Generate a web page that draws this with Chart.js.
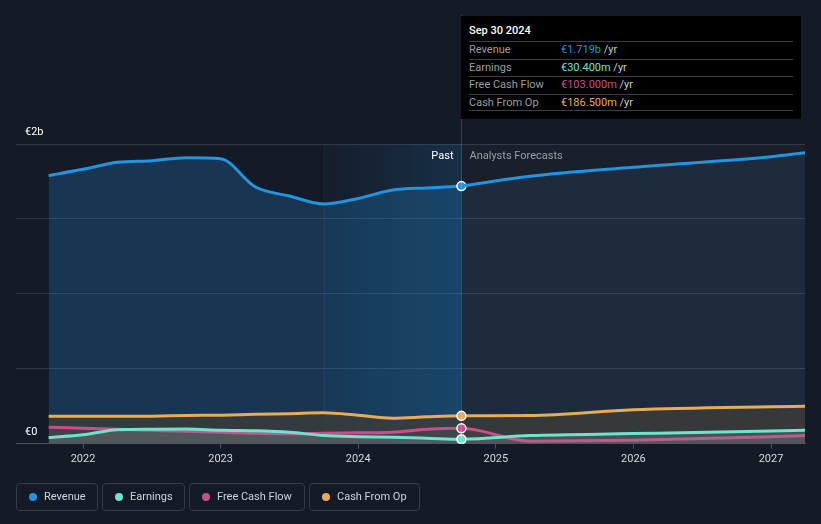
<!DOCTYPE html>
<html>
<head>
<meta charset="utf-8">
<script src="https://cdn.jsdelivr.net/npm/chart.js@4"></script>
<style>
  html, body { margin: 0; padding: 0; background: #151b26; width: 821px; height: 524px; overflow: hidden; font-family: Roboto, "Noto Sans", sans-serif; }
  #wrap { position: absolute; left: 0; top: 0; width: 821px; height: 524px; }
  canvas { position: absolute; left: 0; top: 0; }
  .tip { position: absolute; left: 461px; top: 16px; width: 340px; height: 103px; background: #000; }
  .tip .title { position: absolute; left: 8px; top: 8px; color: #fff; font-size: 11px; font-weight: 500; }
  .tip .row { position: absolute; left: 8px; width: 324px; height: 17px; border-top: 1px solid #3a3f47; font-size: 11px; line-height: 16px; }
  .tip .lab { position: absolute; left: 0; color: #9a9ea6; }
  .tip .val { position: absolute; left: 92px; color: #c8ccd2; }
  .tip .last { position: absolute; left: 8px; top: 94px; width: 324px; border-top: 1px solid #3a3f47; }
  .leg { position: absolute; top: 483px; border: 1px solid #353c49; border-radius: 4px; box-sizing: border-box; height: 28px; }
  .leg .dot { position: absolute; left: 12px; top: 9px; width: 8px; height: 8px; border-radius: 50%; }
  .leg .txt { position: absolute; left: 27px; top: 6px; font-size: 11px; color: #d0d4da; white-space: nowrap; }
</style>
</head>
<body>
<div id="wrap">
  <canvas id="c" width="821" height="524"></canvas>
  <div class="tip" id="tip"></div>
  <div id="legend"></div>
</div>
<script>
// ---- data ----
const pastDates     = [2021.75, 2022.0, 2022.25, 2022.5, 2022.75, 2023.0, 2023.25, 2023.5, 2023.75, 2024.0, 2024.25, 2024.5, 2024.75];
const forecastDates = [2024.75, 2025.25, 2026.0, 2027.0, 2027.25];

const revenuePast     = [1.79, 1.831, 1.878, 1.889, 1.909, 1.902, 1.715, 1.653, 1.60, 1.637, 1.693, 1.707, 1.719];
const revenueForecast = [1.719, 1.785, 1.845, 1.915, 1.942];

const earningsPast     = [0.042, 0.06, 0.093, 0.097, 0.098, 0.09, 0.087, 0.077, 0.055, 0.047, 0.043, 0.037, 0.0304];
const earningsForecast = [0.0304, 0.055, 0.068, 0.086, 0.091];

const fcfPast     = [0.111, 0.103, 0.097, 0.09, 0.083, 0.077, 0.07, 0.067, 0.071, 0.073, 0.077, 0.097, 0.103];
const fcfForecast = [0.103, 0.017, 0.023, 0.047, 0.055];

const cfoPast     = [0.183, 0.183, 0.183, 0.184, 0.189, 0.191, 0.197, 0.201, 0.207, 0.19, 0.171, 0.18, 0.1865];
const cfoForecast = [0.1865, 0.189, 0.227, 0.247, 0.25];

const yearTicks = [2022, 2023, 2024, 2025, 2026, 2027];
const yLabels = [{ v: 2, t: '€2b' }, { v: 0, t: '€0' }];
const xMin = 2021.513, xMax = 2027.247;
const highlightStart = 2023.75, nowDate = 2024.75;

const seriesNames  = ['Revenue', 'Earnings', 'Free Cash Flow', 'Cash From Op'];
const seriesColors = ['#2394df', '#6fe3cb', '#c94f8a', '#e9ab55'];
const tipTitle = 'Sep 30 2024';
const tipValues = ['€1.719b', '€30.400m', '€103.000m', '€186.500m'];

// ---- helpers ----
function pts(dates, vals) { return dates.map((d, i) => ({ x: d, y: vals[i] })); }
function joinSeries(pv, fv) { return pts(pastDates, pv).concat(pts(forecastDates.slice(1), fv.slice(1))); }
const markerR = ctx => (ctx.raw && ctx.raw.x === nowDate) ? 4.5 : 0;

const lineBase = {
  borderWidth: 3,
  cubicInterpolationMode: 'monotone',
  pointRadius: markerR,
  pointHoverRadius: markerR,
  pointBorderColor: '#ffffff',
  pointBorderWidth: 1.5,
  fill: 'origin'
};

const datasets = [
  Object.assign({}, lineBase, { label: 'Revenue', data: pts(pastDates, revenuePast), borderColor: seriesColors[0], pointBackgroundColor: seriesColors[0], backgroundColor: 'rgba(35,148,230,0.23)', order: 10 }),
  Object.assign({}, lineBase, { label: 'Revenue forecast', data: pts(forecastDates, revenueForecast), borderColor: seriesColors[0], pointRadius: 0, backgroundColor: 'rgba(50,120,190,0.12)', order: 9 }),
  Object.assign({}, lineBase, { label: 'Cash From Op', data: joinSeries(cfoPast, cfoForecast), borderColor: seriesColors[3], pointBackgroundColor: seriesColors[3], backgroundColor: 'rgba(62,62,58,0.78)', order: 5 }),
  Object.assign({}, lineBase, { label: 'Free Cash Flow', data: joinSeries(fcfPast, fcfForecast), borderColor: seriesColors[2], pointBackgroundColor: seriesColors[2], backgroundColor: 'rgba(110,100,110,0.18)', order: 3 }),
  Object.assign({}, lineBase, { label: 'Earnings', data: joinSeries(earningsPast, earningsForecast), borderColor: seriesColors[1], pointBackgroundColor: seriesColors[1], backgroundColor: 'rgba(130,135,145,0.3)', order: 2 })
];

const bgPlugin = {
  id: 'bands',
  beforeDatasetsDraw(chart) {
    const { ctx, chartArea: a, scales: { x } } = chart;
    const hx0 = x.getPixelForValue(highlightStart), hx1 = x.getPixelForValue(nowDate);
    ctx.save();
    ctx.fillStyle = 'rgba(255,255,255,0.022)';
    ctx.fillRect(hx1, a.top, a.right - hx1, a.bottom - a.top);
    const g = ctx.createLinearGradient(hx0, 0, hx1, 0);
    g.addColorStop(0, 'rgba(35,148,230,0.03)');
    g.addColorStop(1, 'rgba(35,148,230,0.17)');
    ctx.fillStyle = g;
    ctx.fillRect(hx0, a.top, hx1 - hx0, a.bottom - a.top);
    ctx.fillStyle = 'rgba(255,255,255,0.05)';
    ctx.fillRect(hx0, a.top, 1, a.bottom - a.top);
    ctx.restore();
  },
  afterDatasetsDraw(chart) {
    const { ctx, chartArea: a, scales: { x, y } } = chart;
    const nx = Math.round(x.getPixelForValue(nowDate)) + 0.5;
    ctx.save();
    ctx.strokeStyle = 'rgba(255,255,255,0.16)';
    ctx.lineWidth = 1;
    ctx.beginPath(); ctx.moveTo(nx, 15); ctx.lineTo(nx, a.bottom); ctx.stroke();
    ctx.font = '11px Roboto, "Noto Sans", sans-serif';
    ctx.textBaseline = 'middle';
    ctx.fillStyle = '#ffffff'; ctx.textAlign = 'right';
    ctx.fillText('Past', nx - 8, a.top + 12);
    ctx.fillStyle = '#9a9ea6'; ctx.textAlign = 'left';
    ctx.fillText('Analysts Forecasts', nx + 8, a.top + 12);
    ctx.fillStyle = '#ffffff';
    yLabels.forEach(l => ctx.fillText(l.t, a.left + 9, y.getPixelForValue(l.v) - 12));
    ctx.restore();
  }
};

new Chart(document.getElementById('c'), {
  type: 'line',
  data: { datasets },
  options: {
    responsive: false,
    animation: false,
    devicePixelRatio: 1,
    layout: { padding: { left: 16, right: 16, top: 144, bottom: 54 } },
    plugins: { legend: { display: false }, tooltip: { enabled: false } },
    events: [],
    scales: {
      x: {
        type: 'linear', min: xMin, max: xMax,
        afterBuildTicks: s => { s.ticks = yearTicks.map(v => ({ value: v })); },
        ticks: { color: '#d6d9de', font: { family: 'Roboto', size: 11 }, padding: 4, maxRotation: 0, callback: v => String(v) },
        grid: { drawOnChartArea: false, drawTicks: true, tickLength: 5, color: '#4a5260' },
        border: { display: true, color: '#4a5260', width: 1 }
      },
      y: {
        min: 0, max: 2,
        ticks: { stepSize: 0.5, display: false },
        grid: { drawTicks: false, color: ctx => ctx.tick && ctx.tick.value === 0 ? 'rgba(0,0,0,0)' : 'rgba(255,255,255,0.12)' },
        border: { display: false }
      }
    }
  },
  plugins: [bgPlugin]
});

// tooltip box
const tip = document.getElementById('tip');
let html = '<div class="title">' + tipTitle + '</div>';
seriesNames.forEach((n, i) => {
  const top = 25 + i * 17.5;
  html += '<div class="row" style="top:' + top + 'px"><span class="lab">' + n + '</span><span class="val"><span style="color:' + seriesColors[i] + '">' + tipValues[i] + '</span> /yr</span></div>';
});
html += '<div class="last"></div>';
tip.innerHTML = html;

// legend
const legLeft = [16, 102, 189, 309], legWidth = [82, 83, 116, 111];
const leg = document.getElementById('legend');
seriesNames.forEach((n, i) => {
  const d = document.createElement('div');
  d.className = 'leg';
  d.style.left = legLeft[i] + 'px'; d.style.width = legWidth[i] + 'px';
  d.innerHTML = '<span class="dot" style="background:' + seriesColors[i] + '"></span><span class="txt">' + n + '</span>';
  leg.appendChild(d);
});
</script>
</body>
</html>
